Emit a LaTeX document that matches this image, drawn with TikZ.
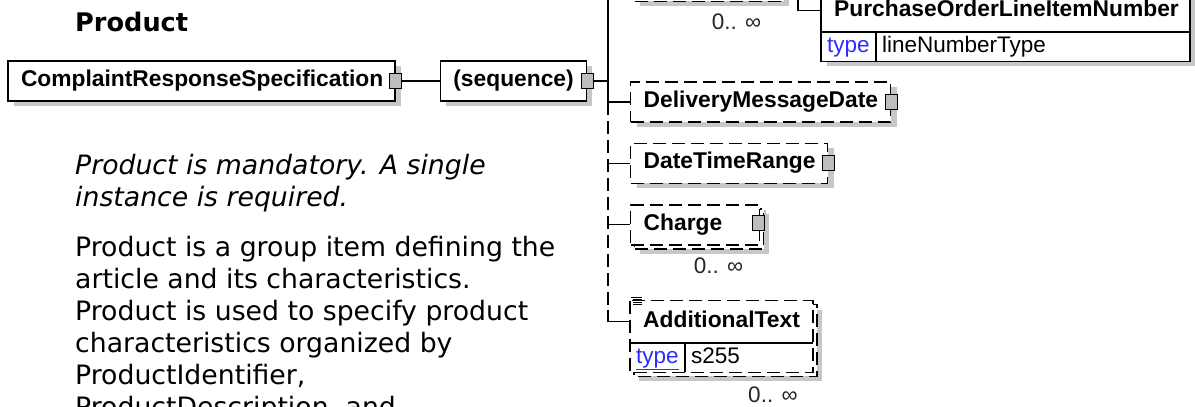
\documentclass[tikz,border=0pt]{standalone}
\usepackage{fontspec}
\setmainfont{DejaVu Sans}
\newfontfamily\boxfont{Liberation Sans}
\usetikzlibrary{positioning,calc,shadows,backgrounds}

\definecolor{shadowgray}{gray}{0.78}
\definecolor{portgray}{gray}{0.74}
\definecolor{typeblue}{RGB}{45,45,255}

\tikzset{
  tagtext/.style={font=\boxfont\bfseries\fontsize{22.8}{26}\selectfont, text width=#1, align=left,
    inner xsep=13pt, inner ysep=0pt, minimum height=40pt, text height=16pt, text depth=5pt},
  elem/.style={tagtext=#1, draw, line width=1.4pt, fill=white,
    drop shadow={shadow xshift=6pt, shadow yshift=-5pt, fill=shadowgray, opacity=1}},
  optbox/.style={dash pattern=on 13pt off 6pt},
  manybox/.style={drop shadow={shadow xshift=9pt, shadow yshift=-9pt, fill=shadowgray, opacity=1},
    copy shadow={shadow xshift=4pt, shadow yshift=-4pt, draw, fill=white, line width=1.4pt, dash pattern=on 13pt off 6pt}},
  port/.style={draw, line width=1pt, fill=portgray, minimum width=12pt, minimum height=15pt, inner sep=0pt},
  wire/.style={line width=1.3pt},
  typecell/.style={font=\boxfont\fontsize{22.5}{26}\selectfont, text=typeblue, inner xsep=6pt, inner ysep=0pt,
    minimum height=29pt, text height=16pt, text depth=5pt, anchor=north west},
  valcell/.style={font=\boxfont\fontsize{22.5}{26}\selectfont, text width=#1, align=left, inner xsep=6pt, inner ysep=0pt,
    minimum height=29pt, text height=16pt, text depth=5pt, anchor=north west},
  occ/.style={font=\boxfont\fontsize{22.5}{26}\selectfont, text=black!85, inner sep=0pt, anchor=north east},
  heading/.style={font=\bfseries\fontsize{25.6}{30}\selectfont, inner sep=0pt, anchor=base west},
  desc/.style={font=\fontsize{26.7}{32}\selectfont, align=left, inner sep=0pt, anchor=north west},
  descit/.style={desc, font=\itshape\fontsize{26.7}{32}\selectfont}
}

\begin{document}
\begin{tikzpicture}[x=1pt, y=-1pt]
\useasboundingbox (0,0) rectangle (1195,407);
\begin{scope}[on background layer]
\fill[white] (0,0) rectangle (1195,407);
\end{scope}

% left side: title, root element, sequence
\node[heading] (title) at (75,31) {Product};
\node[elem=361] (crs) at (201.5,81) {ComplaintResponseSpecification};
\node[port] (crsport) at (crs.east) {};
\node[elem=120, right=44pt of crs] (seq) {(sequence)};
\node[port] (seqport) at (seq.east) {};

\node[descit] (mandatory) at (75,154) {Product is mandatory. A single\\instance is required.};
\node[desc] (groupinfo) at (75,236) {Product is a group item defining the\\article and its characteristics.\\Product is used to specify product\\characteristics organized by\\ProductIdentifier,\\ProductDescription, and};

% children of the sequence
\coordinate (trunk) at (608,-20);
\coordinate (potrunk) at (798,-20);
\node[elem=123, optbox, manybox, anchor=south west] (topbox) at (630,-2) {};
\node[occ] (topocc) at ($(topbox.south east)+(-19,16)$) {0.. ∞};

\node[tagtext=342, minimum height=42pt, anchor=south west] (po) at (821,32) {PurchaseOrderLineItemNumber};
\node[typecell] (potype) at (po.south west) {type};
\node[valcell=301.5] (poval) at (potype.north east) {lineNumberType};

\node[elem=234, optbox, anchor=west] (dmd) at (630,102) {DeliveryMessageDate};
\node[port] (dmdport) at (dmd.east) {};
\node[elem=171, optbox, below right=20pt and 0pt of dmd.south west] (dtr) {DateTimeRange};
\node[port] (dtrport) at (dtr.east) {};
\node[elem=103, optbox, manybox, below right=20pt and 0pt of dtr.south west] (charge) {Charge};
\node[port, xshift=-2pt, yshift=2pt] (chargeport) at (charge.east) {};
\node[occ] (chargeocc) at ($(charge.south east)+(-17,12)$) {0.. ∞};

\node[tagtext=156, minimum height=42pt, below right=55pt and 0pt of charge.south west] (addtext) {AdditionalText};
\node[typecell] (addtype) at (addtext.south west) {\underline{type}};
\node[valcell=115.5] (addval) at (addtype.north east) {s255};
\node[occ] (addocc) at ($(addval.south east)+(-15,14)$) {0.. ∞};

% outlines of the boxes with a type row
\begin{scope}[on background layer]
\draw[line width=1.4pt, fill=white, drop shadow={shadow xshift=6pt, shadow yshift=-5pt, fill=shadowgray, opacity=1}] (po.north west) rectangle (poval.south east);
\draw[line width=1.4pt, fill=white, optbox, manybox] (addtext.north west) rectangle (addval.south east);
\end{scope}
\draw[wire] (po.south west) -- (poval.north east);
\draw[wire] (potype.north east) -- (potype.south east);
\draw[wire] (addtext.south west) -- (addval.north east);
\draw[wire] (addtype.north east) -- (addtype.south east);
\foreach \yy/\xx in {297/631, 299.5/633, 302/633, 304.5/633}
  \draw[line width=0.8pt] (\xx,\yy) -- (642,\yy);

% connectors
\draw[wire] (crsport.east) -- (seq.west);
\draw[wire] (seqport.east) -- (seqport.east -| trunk);
\draw[wire] (trunk) |- (dmd.west);
\draw[wire, optbox] (trunk |- dmd.west) -- ($(trunk |- addtext.west)+(0,-12)$);
\draw[wire] ($(trunk |- addtext.west)+(0,-12)$) |- (addtext.west);
\draw[wire] (trunk |- dtr.west) -- (dtr.west);
\draw[wire] (trunk |- charge.west) -- (charge.west);
\draw[wire] (potrunk) |- (po.west);
\end{tikzpicture}
\end{document}
